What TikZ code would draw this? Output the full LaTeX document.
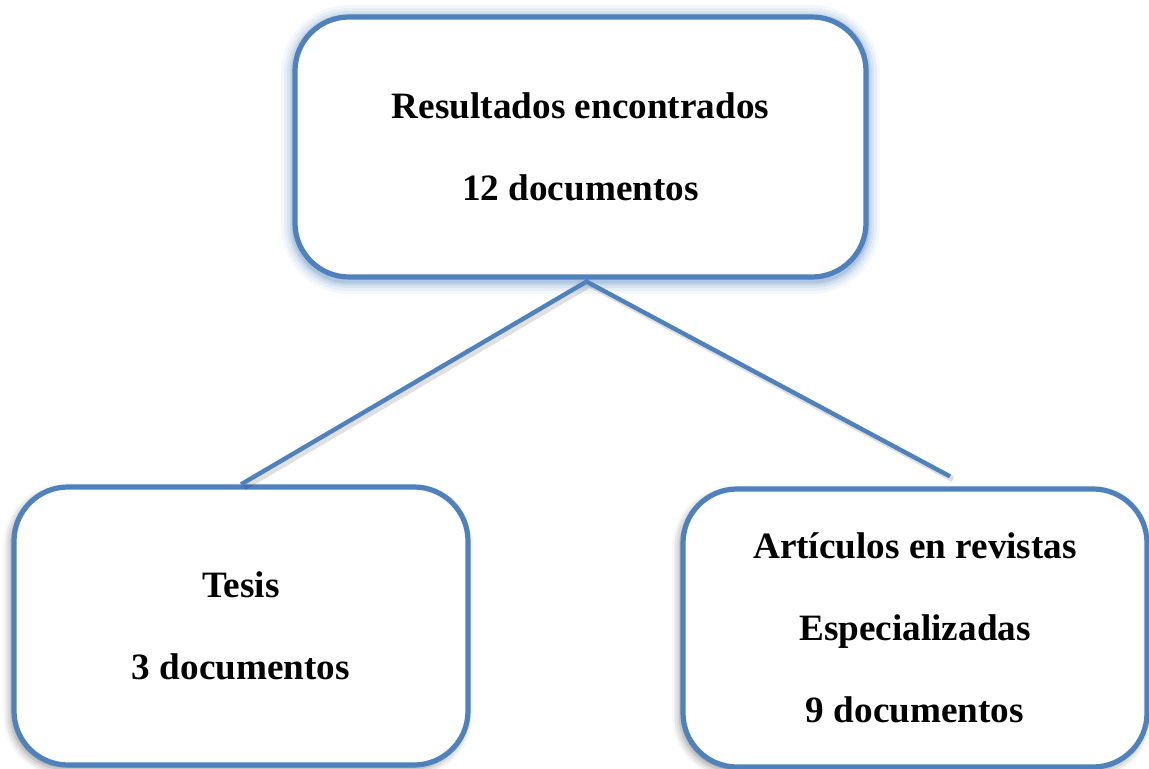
\documentclass[tikz,border=0pt]{standalone}
\usepackage{fontspec}
\setmainfont{Liberation Serif}
\usetikzlibrary{calc,shadows.blur}
\definecolor{obl}{HTML}{4F81BD}
\tikzset{
  boxstyle/.style={draw=obl, line width=2.6pt, rounded corners=27pt, fill=white,
    align=center, font=\bfseries\fontsize{18.6}{41}\selectfont, inner sep=0pt},
  greyshadow/.style={blur shadow={shadow xshift=-1.5pt, shadow yshift=-2pt, shadow blur radius=4pt, shadow opacity=45}},
  conn/.style={draw=obl, line width=2.2pt},
  connshadow/.style={draw=black, line width=3pt, opacity=0.12}
}
\begin{document}
\begin{tikzpicture}[x=0.5pt,y=-0.5pt]
\useasboundingbox (0,0) rectangle (1149,769);
% blue glow behind the top box
\foreach \w/\o in {14/0.06,11/0.08,8/0.10,5.5/0.14,3.5/0.18}{
  \draw[obl, line width=\w pt, rounded corners=27pt, opacity=\o] (295,19) rectangle (866,280);
}
\node[boxstyle, minimum width=285.5pt, minimum height=130pt] (top) at (580.5,147)
  {Resultados encontrados\\12 documentos};
\node[boxstyle, greyshadow, minimum width=227pt, minimum height=139pt] (tesis) at (241,626)
  {Tesis\\3 documentos};
\node[boxstyle, greyshadow, minimum width=232pt, minimum height=139pt] (art) at (915,628)
  {Art\'iculos en revistas\\Especializadas\\9 documentos};
\coordinate (apex) at ($(top.south)+(6,2)$);
\coordinate (rend) at ($(art.north)+(35,-10)$);
\draw[connshadow, transform canvas={xshift=1.5pt, yshift=-1.5pt}] (tesis.north) -- (apex) -- (rend);
\draw[conn] (tesis.north) -- (apex) -- (rend);
\end{tikzpicture}
\end{document}
